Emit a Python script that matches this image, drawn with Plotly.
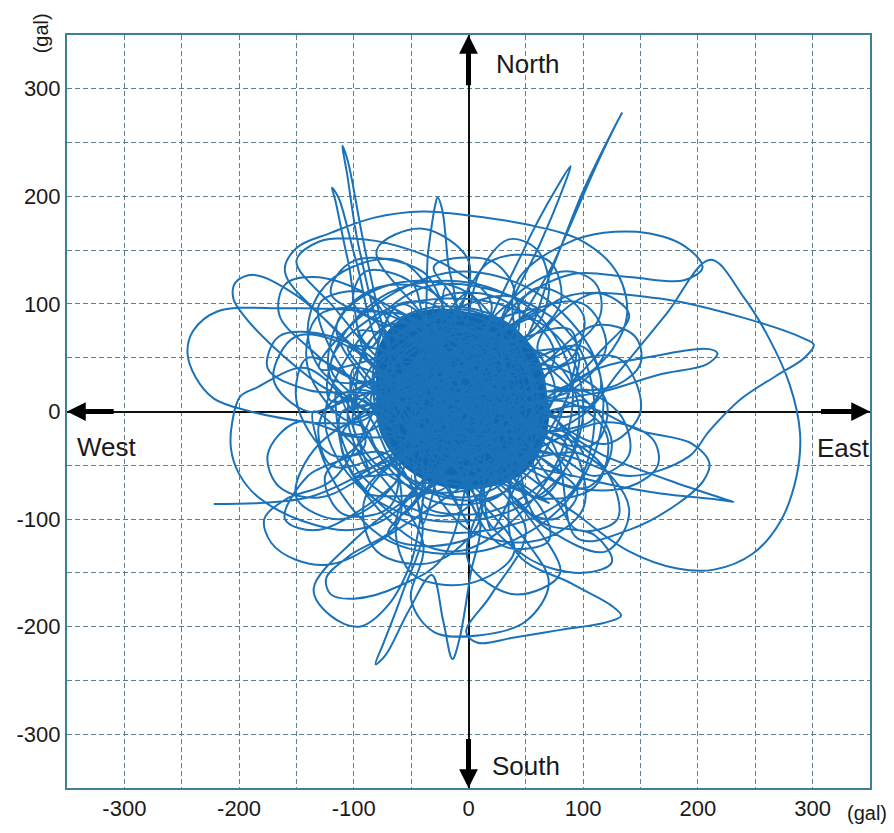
import plotly.graph_objects as go

# ---------------- data (gal) ----------------
tick_vals = [-300, -200, -100, 0, 100, 200, 300]
tick_text = ["-300", "-200", "-100", "0", "100", "200", "300"]

start = [(-222,-86),(-182,-85),(-140,-80),(-100,-62),(-60,-35),(-20,0)]
spike_nw1 = [(-70,60),(-95,150),(-106,222),(-110,247),(-105,232),(-92,160),(-75,80),(-55,20)]
spike_nw2 = [(-80,40),(-105,140),(-116,196),(-119,208),(-113,198),(-98,140),(-72,55)]
spike_n = [(-45,50),(-35,150),(-29,192),(-27,199),(-23,188),(-18,140),(-12,80)]
loop_nw = [(-100,60),(-150,108),(-187,127),(-203,120),(-205,105),(-195,88),(-170,60),(-130,25),(-90,0)]
loop_w_big = [(-40,80),(-100,94),(-160,96),(-219,93),(-240,75),(-245,55),(-238,32),(-222,12),(-190,0),(-140,-10),(-90,-15)]
arc_n = [(-120,80),(-160,130),(-150,152),(-120,166),(-83,180),(-40,186),(2,182),(50,174),(100,158),(130,128),(138,88),(118,48),(75,20)]
spike_ne1 = [(30,40),(75,140),(112,230),(130,270),(134,278),(128,266),(100,205),(72,130),(42,55)]
spike_ne2 = [(15,60),(48,150),(78,210),(89,228),(84,212),(62,155),(30,85)]
loop_ne = [(40,115),(89,158),(147,167),(188,154),(204,134),(188,122),(140,125),(92,128),(50,108),(18,78)]
arc_e = [(60,-20),(100,-3),(132,38),(172,90),(211,141),(240,106),(262,68),(280,25),(289,-20),(286,-60),
         (272,-102),(248,-132),(214,-147),(182,-146),(140,-130),(100,-100),(60,-62)]
loop_e = [(55,88),(89,108),(167,105),(240,87),(292,68),(301,62),(293,50),(268,33),(238,12),(210,-18),(192,-42),(140,-60),(80,-40)]
tip_se = [(60,-12),(120,-42),(180,-66),(225,-82),(231,-84),(218,-82),(160,-75),(100,-62)]
loop_se = [(90,5),(150,-18),(195,-30),(210,-48),(205,-64),(182,-86),(140,-110),(95,-118)]
loop_e2 = [(95,30),(165,52),(210,58),(217,54),(208,44),(165,34),(115,18)]
loop_s = [(50,-110),(20,-170),(-2,-205),(8,-215),(40,-210),(80,-203),(120,-196),(133,-190),(124,-180),(90,-160),(40,-128)]
loop_w = [(-140,40),(-185,22),(-199,14),(-206,-10),(-207,-35),(-200,-58),(-184,-79),(-144,-102),(-100,-110),(-60,-90)]
loops_sw = [(-115,-60),(-160,-82),(-178,-100),(-172,-122),(-150,-138),(-120,-142),(-80,-122)]
tips_s = [(-40,-105),(-58,-170),(-74,-215),(-81,-235),(-72,-226),(-52,-185),(-32,-152),(-22,-195),(-14,-230),(-8,-212),(2,-150),(10,-100)]
curve_sw = [(-60,-100),(-105,-135),(-124,-155),(-120,-170),(-100,-174),(-60,-162),(-20,-132)]
nw_arc2 = [(-60,40),(-120,100),(-150,140),(-130,158),(-90,160),(-50,150),(-10,130),(20,100)]
nw_arc3 = [(-30,60),(-90,110),(-135,125),(-160,118),(-165,90),(-140,60),(-100,30)]
nw_arc4 = [(-20,100),(-60,140),(-100,135),(-130,110),(-140,70),(-120,30)]
n_arc = [(-10,60),(10,130),(35,160),(60,150),(70,110),(50,70)]
ne_mid = [(40,30),(110,80),(145,70),(150,45),(130,25),(90,20)]
ne_mid2 = [(30,90),(80,130),(110,120),(115,90),(90,60)]
e_mid = [(50,-40),(120,-10),(160,-25),(165,-50),(140,-70),(90,-70)]
se_mid = [(10,-80),(50,-135),(100,-150),(125,-140),(110,-115),(60,-100)]
s_mid = [(-40,-120),(-50,-175),(-30,-205),(10,-208),(50,-195),(70,-160),(50,-120)]
sw_mid = [(-50,-80),(-100,-120),(-135,-165),(-120,-190),(-95,-200),(-70,-180),(-50,-140)]
w_mid = [(-90,-20),(-150,-10),(-175,-40),(-165,-70),(-130,-80),(-90,-60)]
w_mid2 = [(-70,10),(-140,20),(-175,40),(-165,70),(-120,70),(-80,45)]

# loops in the dense band around the core
band_loops = [
    [(-100,0),(-90,60),(-40,95),(20,90),(60,50),(65,-10),(30,-60),(-30,-75),(-80,-50),(-100,0)],
    [(-60,-20),(-120,30),(-110,90),(-60,120),(0,110),(30,60)],
    [(40,20),(90,-30),(100,-90),(60,-120),(0,-110),(-30,-60)],
    [(-20,40),(-70,90),(-130,90),(-140,40),(-100,-10)],
    [(20,-20),(80,10),(120,-20),(110,-70),(60,-80),(10,-50)],
    [(-30,-30),(-90,-80),(-80,-130),(-30,-140),(10,-100),(0,-40)],
    [(10,30),(50,90),(100,100),(120,60),(90,20),(30,0)],
    [(-50,10),(-130,-30),(-150,-80),(-110,-100),(-60,-60)],
    [(0,60),(-40,130),(-100,140),(-120,110),(-70,70)],
    [(30,-40),(100,-40),(140,-90),(120,-130),(70,-110),(30,-70)],
    [(-10,-50),(40,-130),(0,-160),(-50,-150),(-60,-90)],
    [(20,50),(80,40),(120,10),(110,-30),(60,-20)],
    [(-80,20),(-140,50),(-150,10),(-120,-40),(-70,-40)],
    [(-20,80),(20,140),(70,140),(80,100),(40,60)],
    [(-60,-60),(-130,-110),(-160,-100),(-140,-60),(-90,-30)],
    [(60,30),(130,50),(150,0),(120,-30),(70,0)],
    [(-90,50),(-150,70),(-170,30),(-140,0),(-90,10)],
    [(40,-80),(80,-150),(40,-170),(0,-140),(10,-90)],
    [(-40,90),(-80,150),(-40,170),(0,140),(-10,90)],
    [(60,60),(110,110),(140,90),(110,50)],
    [(-110,-20),(-60,-110),(-10,-130),(40,-100),(80,-40),(90,30),(60,90),(0,120),(-70,110),(-115,60),(-120,10)],
    [(-130,40),(-80,100),(-10,130),(60,110),(110,50),(115,-20),(80,-90),(10,-130),(-70,-120),(-120,-60),(-135,0)],
    [(-75,-10),(-60,50),(-20,75),(30,65),(55,20),(45,-35),(5,-60),(-45,-55),(-75,-10)],
    [(60,-40),(95,-75),(75,-100),(40,-85),(30,-50)],
    [(-85,60),(-60,100),(-25,95),(-40,60)],
    [(-90,30),(-115,80),(-80,115),(-30,110),(-20,70)],
    [(50,-10),(100,10),(125,-30),(105,-70),(70,-60)],
    [(-40,-70),(-70,-115),(-30,-125),(10,-110),(0,-70)],
    [(30,70),(60,115),(100,90),(90,50),(60,40)],
    [(-95,-30),(-125,-60),(-110,-95),(-70,-90),(-60,-55)],
    [(-10,95),(-30,135),(20,140),(40,110),(20,85)],
    [(75,-20),(120,-55),(130,-100),(95,-110),(70,-75)],
    [(-100,20),(-130,-10),(-120,-50),(-85,-45)],
    [(40,40),(100,60),(115,20),(85,-5)],
    [(-60,75),(-100,100),(-90,130),(-50,120),(-40,90)],
    [(0,-80),(30,-125),(70,-120),(60,-85)],
    [(-120,40),(-80,90),(-20,105),(40,95),(85,60),(100,0),(80,-60),(30,-95),(-40,-100),(-95,-70),(-125,-10)],
    [(-100,60),(-40,115),(30,110),(90,70),(110,0),(90,-75),(20,-110),(-50,-105),(-105,-50),(-115,20)],
    [(-85,-60),(-105,-10),(-95,45),(-70,80)],
    [(70,50),(95,10),(90,-40),(60,-80)],
    [(-30,100),(10,110),(50,90),(75,50)],
    [(-40,-85),(10,-95),(60,-70),(85,-30)],
    [(-110,0),(-100,-50),(-60,-85),(-10,-95)],
    [(80,20),(130,0),(140,-40),(110,-60),(75,-40)],
    [(-60,-10),(-110,40),(-130,100),(-90,110),(-60,60)],
]

ring = [(-100,40),(-110,-20),(-90,-75),(-40,-105),(20,-110),(70,-85),(100,-40),(105,20),(90,75),(40,105),
        (-20,115),(-75,100),(-105,60),(-120,0),(-100,-60),(-55,-95),(0,-105),(55,-95),(90,-60),(110,-5),
        (95,55),(60,95),(0,110),(-60,100),(-95,75)]

core = [(-20,0),(30,40),(-10,70),(-60,30),(-40,-40),(20,-50),(50,0),(30,60),(-30,80),(-80,40),
        (-70,-30),(-20,-70),(40,-40),(60,20),(20,70),(-40,60),(-70,0),(-40,-50),(10,-60),(55,-20),
        (40,45),(-5,85),(-55,55),(-85,5),(-60,-55),(-5,-80),(45,-55),(70,-5),(50,50),(0,90),
        (-50,75),(-90,25),(-80,-35),(-35,-75),(20,-80),(65,-40),(75,15),(45,70),(-10,95),(-65,70),
        (-95,20),(-75,-45),(-25,-85),(35,-70),(70,-25),(-30,20),(20,-10),(-10,45),(-50,-10),(10,20),
        (-25,-25),(30,10),(-40,40),(0,-30),(25,35),(-55,15),(-15,-45),(40,-15),(-5,60),(-45,-30),
        (15,50),(-60,-5),(5,-40),(45,25),(-35,55),(-20,-60),(50,-45),(-70,35),(10,75),(-45,-65),
        (60,-10),(-25,70),(-75,-15),(25,-30),(-10,30),(-50,50),(-15,10),(20,55),(-65,20),(-30,-15),
        (35,-5),(0,65),(-55,-45),(30,-65),(-5,20),(-35,5),(15,-15),(-20,40),(-45,-5),(5,5),
        (-30,-35),(20,25),(-60,60),(-10,-25),(40,60),(-80,10),(-20,-10),(25,-45),(-40,25),(10,40),
        (-25,50),(-50,-25),(15,10),(-15,-40),(35,20),(-70,45),(0,-10),(-35,70),(-55,-15),(20,-20),
        (-5,50),(-45,10),(30,-35),(-15,60),(-65,-25),(10,0),(-25,25),(-40,-55),(45,5),(-10,80),
        (-75,25),(0,-55),(25,65),(-55,35),(-30,-5)]

core_outline = [(-80,20),(-78,60),(-60,85),(-30,95),(0,92),(30,85),(55,60),(65,30),(70,0),(65,-30),
                (50,-55),(25,-68),(-5,-72),(-35,-65),(-62,-45),(-78,-15),(-80,20)]

features = [spike_nw1, loop_e, spike_nw2, tip_se, spike_n, loop_s, loop_nw, arc_e, loop_w_big,
            loops_sw, arc_n, loop_se, spike_ne1, tips_s, spike_ne2, loop_w, loop_ne, curve_sw,
            loop_e2, nw_arc2, se_mid, nw_arc3, s_mid, n_arc, sw_mid, ne_mid, w_mid, ne_mid2,
            e_mid, nw_arc4, w_mid2]

# ---------------- build path ----------------
path = list(start)
chunk = 4
n_feat = len(features)
for i, seg in enumerate(features):
    path += seg
    path += core[i * chunk:(i + 1) * chunk]
    path += ring[i:i + 1]
    path += band_loops[i] if i < len(band_loops) else []
path += core[n_feat * chunk:]
path += ring[n_feat:]
for loop in band_loops[n_feat:]:
    path += loop

px = [p[0] for p in path]
py = [p[1] for p in path]

LINE = "#1b72b8"
CORE = "#1068b0"

fig = go.Figure()
fig.add_trace(go.Scatter(
    x=[p[0] for p in core_outline], y=[p[1] for p in core_outline],
    mode="lines", line=dict(color=CORE, width=1, shape="spline"),
    fill="toself", fillcolor=CORE, hoverinfo="skip", showlegend=False))
fig.add_trace(go.Scatter(
    x=px, y=py, mode="lines",
    line=dict(color=LINE, width=2, shape="spline", smoothing=1.0),
    showlegend=False))

grid_col = "#5d7f8e"
axis_common = dict(
    range=[-350, 350], tickvals=tick_vals, ticktext=tick_text,
    showgrid=True, gridcolor=grid_col, gridwidth=1.2, griddash="5px,3px",
    minor=dict(dtick=50, tick0=0, showgrid=True, gridcolor=grid_col, gridwidth=1.2, griddash="5px,3px"),
    zeroline=True, zerolinecolor="#111111", zerolinewidth=1.5,
    showline=True, mirror=True, linecolor="#3f7f98", linewidth=2,
    ticks="", tickfont=dict(family="Liberation Sans, Arial", size=22, color="#1a1a1a"),
    fixedrange=True, layer="below traces",
)
fig.update_xaxes(**axis_common)
fig.update_yaxes(**axis_common)

arrow_common = dict(xref="x", yref="y", axref="x", ayref="y", text="", showarrow=True,
                    arrowhead=2, arrowwidth=5, arrowsize=0.75, arrowcolor="#000000", standoff=0)
annotations = [
    dict(x=0, y=350, ax=0, ay=302, **arrow_common),
    dict(x=0, y=-350, ax=0, ay=-303, **arrow_common),
    dict(x=-350, y=0, ax=-308, ay=0, **arrow_common),
    dict(x=350, y=0, ax=306, ay=0, **arrow_common),
]
lab_font = dict(family="Liberation Sans, Arial", size=26, color="#1a1a1a")
annotations += [
    dict(x=22, y=323, xref="x", yref="y", text="North", showarrow=False, xanchor="left", yanchor="middle", font=lab_font),
    dict(x=19, y=-330, xref="x", yref="y", text="South", showarrow=False, xanchor="left", yanchor="middle", font=lab_font),
    dict(x=-343, y=-33, xref="x", yref="y", text="West", showarrow=False, xanchor="left", yanchor="middle", font=lab_font),
    dict(x=302, y=-34, xref="x", yref="y", text="East", showarrow=False, xanchor="left", yanchor="middle", font=lab_font),
    dict(x=-0.032, y=1.0026, xref="paper", yref="paper", text="(gal)", showarrow=False, textangle=-90,
         xanchor="center", yanchor="middle", font=dict(family="Liberation Sans, Arial", size=20, color="#1a1a1a")),
    dict(x=0.969, y=-0.033, xref="paper", yref="paper", text="(gal)", showarrow=False,
         xanchor="left", yanchor="middle", font=dict(family="Liberation Sans, Arial", size=20, color="#1a1a1a")),
]

fig.update_layout(
    width=894, height=833,
    margin=dict(l=67, r=24, t=35, b=40),
    paper_bgcolor="white", plot_bgcolor="white",
    annotations=annotations, showlegend=False,
)

fig.write_html("out.html")
